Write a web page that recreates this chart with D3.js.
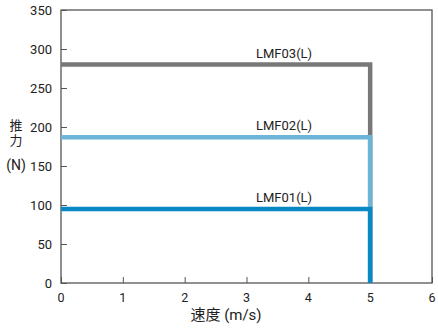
<!DOCTYPE html>
<html><head><meta charset="utf-8">
<script src="https://cdn.jsdelivr.net/npm/d3@7"></script>
<style>body{margin:0;background:#fff}svg{display:block}text{font-family:Roboto,"Noto Sans CJK SC",sans-serif}</style>
</head><body><svg id="c" width="438" height="329"></svg>
<script>
const series = ["LMF03(L)", "LMF02(L)", "LMF01(L)"];
const forces = [280, 187, 95];
const maxSpeed = [5, 5, 5];
const colors = ["#787878", "#6cb4d8", "#0a88c6"];
const xTicks = [0, 1, 2, 3, 4, 5, 6];
const yTicks = [0, 50, 100, 150, 200, 250, 300, 350];

const svg = d3.select("#c");
const m = {l: 61, r: 432, t: 10, b: 283};
const x = d3.scaleLinear().domain([0, 6]).range([m.l, m.r]);
const y = d3.scaleLinear().domain([0, 350]).range([m.b, m.t]);

// frame
svg.append("rect").attr("x", m.l).attr("y", m.t).attr("width", m.r - m.l).attr("height", m.b - m.t)
  .attr("fill", "none").attr("stroke", "#555").attr("stroke-width", 1.3);

const ya = svg.append("g").attr("transform", `translate(${m.l},0)`)
  .call(d3.axisRight(y).tickValues(yTicks).tickSize(6).tickFormat(""));
ya.select(".domain").remove();
ya.selectAll("line").attr("stroke", "#555");
svg.selectAll(".ylab").data(yTicks).join("text").attr("class", "ylab")
  .attr("x", m.l - 9).attr("y", d => y(d) + 4.5).attr("text-anchor", "end")
  .attr("font-size", 13).attr("fill", "#222").text(d => d);

const xa = svg.append("g").attr("transform", `translate(0,${m.b})`)
  .call(d3.axisTop(x).tickValues(xTicks).tickSize(6).tickFormat(""));
xa.select(".domain").remove();
xa.selectAll("line").attr("stroke", "#555");
svg.selectAll(".xlab").data(xTicks).join("text").attr("class", "xlab")
  .attr("x", d => x(d)).attr("y", m.b + 19).attr("text-anchor", "middle")
  .attr("font-size", 12.5).attr("fill", "#222").text(d => d);

const line = d3.line().x(d => x(d[0])).y(d => y(d[1]));
series.forEach((s, i) => {
  const pts = [[0, forces[i]], [maxSpeed[i], forces[i]], [maxSpeed[i], 0]];
  svg.append("path").attr("d", line(pts)).attr("fill", "none")
    .attr("stroke", colors[i]).attr("stroke-width", 4.5).attr("stroke-linejoin", "miter");
  svg.append("text").attr("x", 256).attr("y", y(forces[i]) - 7)
    .attr("font-size", 13).attr("fill", "#222").text(s);
});

// axis titles
svg.append("text").attr("x", 16).attr("y", 130).attr("text-anchor", "middle").attr("font-size", 13).attr("fill", "#222").text("推");
svg.append("text").attr("x", 16).attr("y", 145).attr("text-anchor", "middle").attr("font-size", 13).attr("fill", "#222").text("力");
svg.append("text").attr("x", 16).attr("y", 170).attr("text-anchor", "middle").attr("font-size", 14).attr("fill", "#222").text("(N)");
svg.append("text").attr("x", 226).attr("y", 320).attr("text-anchor", "middle").attr("font-size", 15).attr("fill", "#222").text("速度 (m/s)");
</script></body></html>
